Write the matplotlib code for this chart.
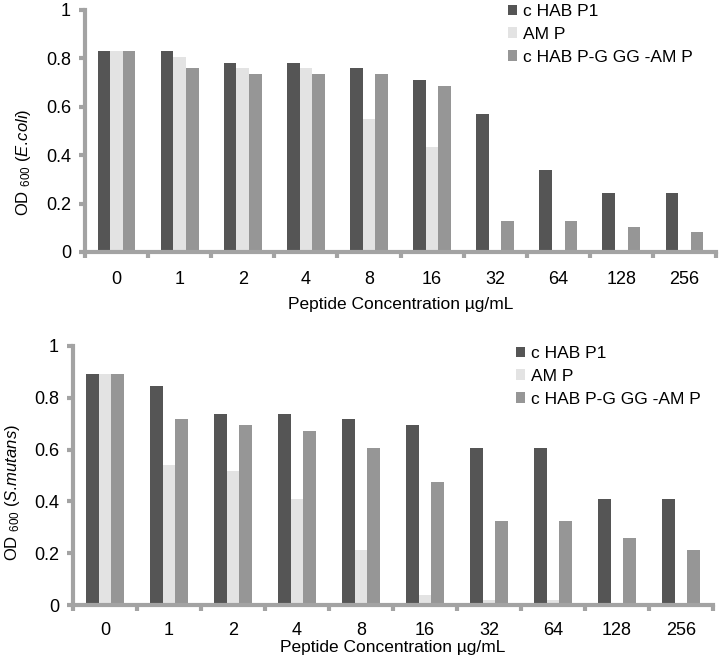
import numpy as np
import matplotlib
matplotlib.use('Agg')
import matplotlib.pyplot as plt

plt.rcParams['font.family'] = ['Liberation Sans', 'DejaVu Sans']
plt.rcParams['mathtext.fontset'] = 'custom'
plt.rcParams['mathtext.rm'] = 'Liberation Sans'
plt.rcParams['mathtext.it'] = 'Liberation Sans:italic'

# concentrations (ug/mL)
conc = ['0', '1', '2', '4', '8', '16', '32', '64', '128', '256']
series_names = ['c HAB P1', 'AM P', 'c HAB P-G GG -AM P']

# OD600 E. coli
ecoli_p1 = [0.83, 0.83, 0.78, 0.78, 0.76, 0.71, 0.57, 0.34, 0.245, 0.245]
ecoli_amp = [0.83, 0.805, 0.76, 0.76, 0.55, 0.433, 0.0, 0.0, 0.0, 0.0]
ecoli_fus = [0.83, 0.759, 0.736, 0.736, 0.736, 0.687, 0.128, 0.128, 0.105, 0.081]

# OD600 S. mutans
smut_p1 = [0.89, 0.846, 0.736, 0.736, 0.717, 0.694, 0.607, 0.607, 0.409, 0.409]
smut_amp = [0.89, 0.541, 0.519, 0.409, 0.212, 0.039, 0.019, 0.019, 0.0, 0.0]
smut_fus = [0.89, 0.717, 0.694, 0.673, 0.607, 0.476, 0.323, 0.323, 0.257, 0.212]

colors = ['#555555', '#e3e3e3', '#969696']
axis_col = '#a3a3a3'

fig = plt.figure(figsize=(7.21, 6.62), dpi=100)
ax1 = fig.add_axes([85/721, 1-252/662, 631/721, 242/662])
ax2 = fig.add_axes([73/721, 1-605/662, 640/721, 259/662])


def draw(ax, data, organism, ylab_pos, leg_pos, tick_pad, xlab_pad):
    x = np.arange(len(conc))
    w = 0.2
    for i, (vals, c, name) in enumerate(zip(data, colors, series_names)):
        ax.bar(x + (i - 1) * w, vals, width=w, color=c, label=name)
    ax.set_xlim(-0.5, len(conc) - 0.5)
    ax.set_ylim(0, 1)
    ax.set_yticks([0, 0.2, 0.4, 0.6, 0.8, 1])
    ax.set_yticklabels(['0', '0.2', '0.4', '0.6', '0.8', '1'])
    ax.set_xticks(np.arange(len(conc) + 1) - 0.5)
    ax.set_xticklabels([])
    ax.set_xticks(x, minor=True)
    ax.set_xticklabels(conc, minor=True)
    ax.tick_params(axis='x', which='minor', length=0, pad=tick_pad, labelsize=13)
    ax.tick_params(axis='x', which='major', length=4, width=3, color=axis_col)
    ax.tick_params(axis='y', length=4, width=3, color=axis_col, labelsize=13, pad=6)
    for s in ['top', 'right']:
        ax.spines[s].set_visible(False)
    for s in ['left', 'bottom']:
        ax.spines[s].set_color(axis_col)
        ax.spines[s].set_linewidth(3)
    ax.set_xlabel('Peptide Concentration µg/mL', fontsize=12.5, labelpad=xlab_pad)
    ax.set_ylabel('OD $_{\\mathregular{600}}$ $\\mathit{(' + organism + ')}$', fontsize=12)
    ax.yaxis.set_label_coords(*ylab_pos)
    ax.legend(loc='upper left', bbox_to_anchor=leg_pos, frameon=False, fontsize=12.5,
              handlelength=0.55, handleheight=0.55, handletextpad=0.3,
              labelspacing=0.45, borderpad=0, borderaxespad=0)


draw(ax1, [ecoli_p1, ecoli_amp, ecoli_fus], 'E.\\!coli', (-0.082, 0.37), (0.67, 1.025), 14, 6)
draw(ax2, [smut_p1, smut_amp, smut_fus], 'S.\\!mutans', (-0.08, 0.435), (0.692, 1.0), 12, 1)

fig.savefig('out.png', dpi=100)
